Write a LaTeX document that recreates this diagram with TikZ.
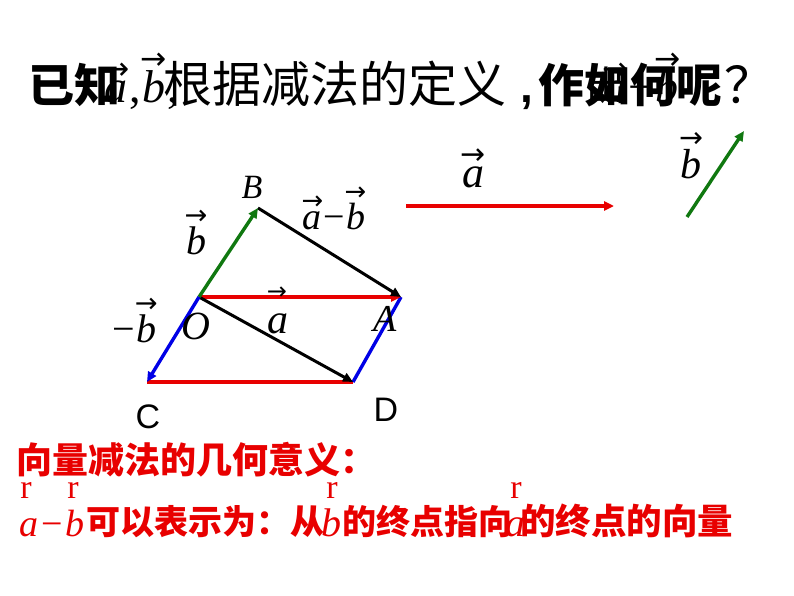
\documentclass[tikz,border=0pt]{standalone}
\usepackage{fontspec}
\setmainfont{Liberation Serif}
\newfontfamily\cjk{Noto Sans CJK SC}
\newfontfamily\arial{Liberation Sans}
\newfontfamily\dv{DejaVu Sans}
\usetikzlibrary{arrows.meta}
\definecolor{vred}{RGB}{232,0,0}
\definecolor{vgreen}{RGB}{16,120,16}
\definecolor{vblue}{RGB}{0,0,230}
\newcommand\arr{\hbox{\edef\tmpsz{\the\dimexpr0.68\fontdimen6\font\relax}\dv\fontsize{\tmpsz}{\tmpsz}\selectfont →}}
\newcommand\vecit[1]{\ensuremath{\mathord{\mathop{\hbox{\itshape #1}}\limits^{\arr}}}}
\newcommand\fs[1]{\fontsize{#1}{#1}\selectfont}
\begin{document}
\begin{tikzpicture}[x=1pt,y=-1pt,
  vec/.style={line width=3.4pt,-{Triangle[length=10pt,width=9pt]}},
  bvec/.style={line width=3pt,-{Triangle[length=10pt,width=9pt]}},
  seg/.style={line width=3.4pt},
  txt/.style={inner sep=0pt,anchor=base west},
  lbl/.style={inner sep=0pt},
  rtxt/.style={inner sep=0pt,anchor=base west,text=vred}]
\useasboundingbox[fill=white] (0,0) rectangle (794,596);

% ---- title ----
\node[txt,font=\cjk\bfseries\fs{46}] (t1) at (28,103) {已知};
\node[txt,font=\fs{46}] (t2) at (103,103) {\vecit{a},\vecit{b},};
\node[txt,font=\cjk\fs{49}] (t3) at (163,103) {根据减法的定义};
\node[txt,font=\arial\bfseries\fs{46}] (t4) at (520,103) {,};
\node[txt,font=\cjk\bfseries\fs{46}] (t5) at (538,103) {作如何呢};
\node[txt,font=\cjk\fs{50}] (t5q) at (724,104) {？};
\node[txt,font=\cjk\fs{40}] (t6) at (586,101) {出};
\node[txt,font=\fs{46}] (t7) at (602,103) {\vecit{a}−\vecit{b}};

% ---- parallelogram diagram ----
\coordinate (O) at (199,297);
\coordinate (B) at (258,208);
\coordinate (A) at (401,297);
\coordinate (C) at (147,382);
\coordinate (D) at (353,382);

\draw[seg,vred] (C) -- (D);
\draw[seg,vblue] (D) -- (A);
\draw[vec,vred] (O) -- (A);
\draw[bvec,black] (O) -- (D);
\draw[bvec,black] (B) -- (A);
\draw[vec,vgreen] (O) -- (B);
\draw[vec,vblue] (O) -- (C);

\node[lbl,font=\fs{34}\itshape] (lB) at (252,187) {B};
\node[lbl,font=\fs{40}] (lb) at (196,232) {\vecit{b}};
\node[lbl,font=\fs{38}] (lamb) at (334,208) {\vecit{a}−\vecit{b}};
\node[lbl,font=\dv\fs{24}] (larr) at (277,293) {→};
\node[lbl,font=\fs{42}\itshape] (la) at (278,324) {a};
\node[lbl,font=\fs{40}\itshape] (lO) at (196,326) {O};
\node[lbl,font=\fs{38}\itshape] (lA) at (385,319) {A};
\node[lbl,font=\fs{40}] (lnb) at (135,320) {−\vecit{b}};
\node[lbl,font=\arial\fs{34}] (lC) at (148,417) {C};
\node[lbl,font=\arial\fs{34}] (lD) at (386,410) {D};

% ---- given vectors ----
\coordinate (a1) at (406,206);
\coordinate (a2) at (614,206);
\coordinate (b1) at (687,217);
\coordinate (b2) at (744,131);
\draw[vec,vred] (a1) -- (a2);
\draw[vec,vgreen] (b1) -- (b2);
\node[lbl,font=\fs{44}] (va) at (473,168) {\vecit{a}};
\node[lbl,font=\fs{42}] (vb) at (691,155) {\vecit{b}};

% ---- bottom text ----
\node[rtxt,font=\cjk\bfseries\fs{36}] (m1) at (16,473) {向量减法的几何意义：};
\node[lbl,text=vred,font=\fs{34}] (r1) at (26,490) {r};
\node[lbl,text=vred,font=\fs{34}] (r2) at (73,490) {r};
\node[lbl,text=vred,font=\fs{34}] (r3) at (332,490) {r};
\node[lbl,text=vred,font=\fs{34}] (r4) at (516,490) {r};
\node[rtxt,font=\fs{38}\itshape] (m2) at (19,536) {a\hspace{3pt}\textup{−}\hspace{3pt}b};
\node[rtxt,font=\cjk\bfseries\fs{34}] (m3) at (86,534) {可以表示为：从};
\node[rtxt,font=\fs{40}\itshape] (m4) at (321,536) {b};
\node[rtxt,font=\cjk\bfseries\fs{34}] (m5) at (342,534) {的终点指向};
\node[rtxt,font=\fs{40}\itshape] (m6) at (505,536) {a};
\node[rtxt,font=\cjk\bfseries\fs{35.5}] (m7) at (520,534) {的终点的向量};
\end{tikzpicture}
\end{document}
